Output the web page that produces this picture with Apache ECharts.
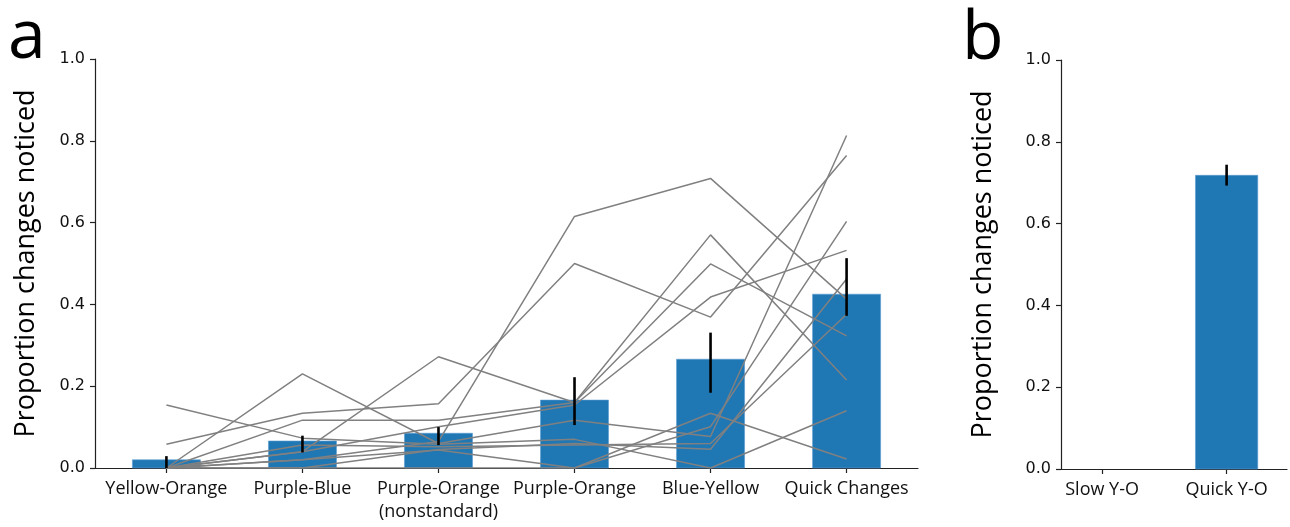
<!DOCTYPE html>
<html>
<head>
<meta charset="utf-8">
<script src="https://cdn.jsdelivr.net/npm/echarts@6/dist/echarts.min.js"></script>
<style>
  html, body { margin: 0; padding: 0; background: #ffffff; }
  #chart { width: 1290px; height: 527px; }
</style>
</head>
<body>
<div id="chart"></div>
<script>
// Panel a: conditions, group means and error bar ends
const conditionsA = ['Yellow-Orange', 'Purple-Blue', 'Purple-Orange\n(nonstandard)', 'Purple-Orange', 'Blue-Yellow', 'Quick Changes'];
const meanA = [0.020, 0.066, 0.085, 0.166, 0.266, 0.425];
const errLowA = [0.000, 0.038, 0.056, 0.105, 0.184, 0.372];
const errHighA = [0.029, 0.079, 0.100, 0.222, 0.331, 0.513];

// Panel a: one row per participant, one value per condition
const participant01 = [0.058, 0.134, 0.157, 0.500, 0.369, 0.764];
const participant02 = [0.154, 0.073, 0.058, 0.070, 0.000, 0.140];
const participant03 = [0.000, 0.230, 0.060, 0.117, 0.077, 0.813];
const participant04 = [0.000, 0.040, 0.272, 0.160, 0.570, 0.215];
const participant05 = [0.000, 0.117, 0.117, 0.160, 0.499, 0.323];
const participant06 = [0.000, 0.020, 0.065, 0.615, 0.708, 0.413];
const participant07 = [0.000, 0.040, 0.101, 0.154, 0.418, 0.532];
const participant08 = [0.000, 0.056, 0.052, 0.056, 0.060, 0.376];
const participant09 = [0.000, 0.020, 0.044, 0.000, 0.134, 0.022];
const participant10 = [0.000, 0.000, 0.045, 0.060, 0.046, 0.462];
const participant11 = [0.000, 0.000, 0.000, 0.000, 0.101, 0.603];
const participants = [participant01, participant02, participant03, participant04, participant05, participant06,
                      participant07, participant08, participant09, participant10, participant11];

// Panel b: conditions, means and error bar ends
const conditionsB = ['Slow Y-O', 'Quick Y-O'];
const meanB = [0.000, 0.718];
const errLowB = [null, 0.693];
const errHighB = [null, 0.744];

// Shared y-axis ticks
const yTickMin = 0;
const yTickMax = 1;
const yTickStep = 0.2;

const BAR_BLUE = '#1f77b4';
const AXIS_COLOR = '#222222';
const TICK_FONT = 'DejaVu Sans';
const TEXT_FONT = 'Open Sans';

const chart = echarts.init(document.getElementById('chart'), null, { renderer: 'canvas' });

function indexList(n) { return Array.from({ length: n }, (_, i) => i); }

function xAxisFor(cats, gridIndex, padLeft, padRight) {
  return {
    type: 'value', gridIndex: gridIndex,
    min: -padLeft, max: cats.length - 1 + padRight,
    splitLine: { show: false },
    axisLine: { show: true, onZero: false, lineStyle: { color: AXIS_COLOR, width: 1.2 } },
    axisTick: { show: true, inside: false, length: 5, lineStyle: { color: AXIS_COLOR, width: 1.2 },
                customValues: indexList(cats.length) },
    axisLabel: { show: true, customValues: indexList(cats.length), margin: 9,
                 formatter: v => cats[Math.round(v)],
                 color: '#111', fontFamily: TEXT_FONT, fontSize: 18, lineHeight: 23 }
  };
}

function yAxisFor(gridIndex, nameGap) {
  return {
    type: 'value', gridIndex: gridIndex,
    min: yTickMin, max: yTickMax, interval: yTickStep,
    splitLine: { show: false },
    axisLine: { show: true, onZero: false, lineStyle: { color: AXIS_COLOR, width: 1.2 } },
    axisTick: { show: true, inside: false, length: 5, lineStyle: { color: AXIS_COLOR, width: 1.2 } },
    axisLabel: { formatter: v => v.toFixed(1), color: '#111', fontFamily: TICK_FONT, fontSize: 16, margin: 10 },
    name: 'Proportion changes noticed', nameLocation: 'middle', nameRotate: 90, nameGap: nameGap,
    nameTextStyle: { color: '#000', fontFamily: TEXT_FONT, fontSize: 27 }
  };
}

// Bars drawn through the axis scales; width is half a category step
function barSeries(means, axisIdx) {
  return {
    type: 'custom', xAxisIndex: axisIdx, yAxisIndex: axisIdx, z: 2,
    data: means.map((v, i) => [i, v]).filter(d => d[1] > 0),
    renderItem: (params, api) => {
      const x = api.value(0), v = api.value(1);
      const p0 = api.coord([x - 0.25, v]);
      const p1 = api.coord([x + 0.25, 0]);
      return { type: 'rect', shape: { x: p0[0], y: p0[1], width: p1[0] - p0[0], height: p1[1] - p0[1] },
               style: { fill: BAR_BLUE, stroke: '#5b9bd0', lineWidth: 0.6 } };
    }
  };
}

function errorSeries(lows, highs, axisIdx) {
  return {
    type: 'custom', xAxisIndex: axisIdx, yAxisIndex: axisIdx, z: 5,
    data: lows.map((lo, i) => [i, lo, highs[i]]).filter(d => d[1] !== null),
    renderItem: (params, api) => {
      const a = api.coord([api.value(0), api.value(1)]);
      const b = api.coord([api.value(0), api.value(2)]);
      return { type: 'line', shape: { x1: a[0], y1: a[1], x2: b[0], y2: b[1] },
               style: { stroke: '#000', lineWidth: 2.6 } };
    }
  };
}

const lineSeries = participants.map(row => ({
  type: 'line', xAxisIndex: 0, yAxisIndex: 0, z: 3,
  data: row.map((v, i) => [i, v]),
  symbol: 'none', silent: true, animation: false,
  lineStyle: { color: '#808080', width: 1.5 }
}));

chart.setOption({
  animation: false,
  backgroundColor: '#ffffff',
  grid: [
    { left: 95, top: 59, width: 823, height: 409, containLabel: false },
    { left: 1061, top: 60, width: 226, height: 409, containLabel: false }
  ],
  xAxis: [xAxisFor(conditionsA, 0, 0.525, 0.525), xAxisFor(conditionsB, 1, 0.33, 0.485)],
  yAxis: [yAxisFor(0, 55), yAxisFor(1, 64)],
  graphic: [
    { type: 'text', left: 8, top: 5, style: { text: 'a', fontFamily: TEXT_FONT, fontSize: 68, fill: '#000' } },
    { type: 'text', left: 962, top: 6, style: { text: 'b', fontFamily: TEXT_FONT, fontSize: 68, fill: '#000' } }
  ],
  series: [
    barSeries(meanA, 0),
    ...lineSeries,
    errorSeries(errLowA, errHighA, 0),
    barSeries(meanB, 1),
    errorSeries(errLowB, errHighB, 1)
  ]
});
</script>
</body>
</html>
